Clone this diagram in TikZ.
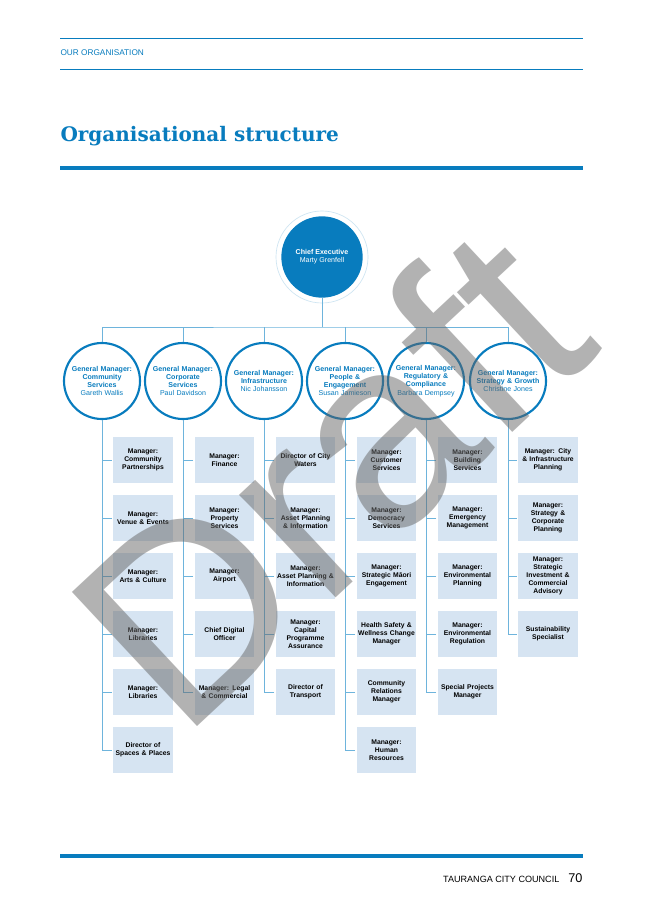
\documentclass[tikz,border=0pt]{standalone}
\usepackage{fontspec}
\setmainfont{Liberation Sans}
\newfontfamily\titlefont{DejaVu Serif}
\definecolor{tccblue}{RGB}{8,124,190}
\definecolor{tccbox}{RGB}{214,228,242}
\definecolor{tccline}{RGB}{110,180,220}
\tikzset{
  every picture/.style={line width=0.75pt},
  unit/.style={fill=tccbox,draw=white,line width=1.2pt,minimum width=46pt,minimum height=36pt,
    text width=46pt,align=center,inner sep=0pt,font=\fontsize{5.1}{6.1}\selectfont\bfseries},
  gmcircle/.style={circle,draw=tccblue,line width=1.6pt,fill=white,minimum size=57pt,inner sep=0pt,
    text width=50pt,align=center,text=tccblue,font=\fontsize{5.3}{6.2}\selectfont},
  link/.style={draw=tccline,line width=0.6pt},
}
\begin{document}
\hyphenpenalty=10000
\begin{tikzpicture}[x=0.75pt,y=0.75pt,yscale=-1,xscale=1]
\useasboundingbox (0,0) rectangle (645,912);
\fill[white] (0,0) rectangle (645,912);

%Header
\draw[tccblue,line width=0.6pt] (60,38) -- (583,38);
\draw[tccblue,line width=0.6pt] (60,69) -- (583,69);
\node[anchor=west,text=tccblue,font=\fontsize{6.2}{7}\selectfont,inner sep=0pt] (head) at (60,53) {OUR ORGANISATION};
\node[anchor=west,text=tccblue,font=\titlefont\bfseries\fontsize{15}{18}\selectfont,inner sep=0pt] (title) at (60,136) {Organisational structure};
\draw[tccblue,line width=2.4pt] (60,168) -- (583,168);

%Chief executive
\draw[tccblue!20,line width=0.5pt] (322,257) circle (46);
\node[circle,fill=tccblue,minimum size=61pt,inner sep=0pt,align=center,text=white,
  font=\fontsize{5.3}{6.2}\selectfont] (ce) at (322,257) {\textbf{Chief Executive}\\Marty Grenfell};

%General managers
\node[gmcircle] (gm1) at (102,381) {\textbf{General Manager:\\Community\\Services}\\Gareth Wallis};
\node[gmcircle] (gm2) at (183,381) {\textbf{General Manager:\\Corporate\\Services}\\Paul Davidson};
\node[gmcircle] (gm3) at (264,381) {\textbf{General Manager:\\Infrastructure}\\Nic Johansson};
\node[gmcircle] (gm4) at (345,381) {\textbf{General Manager:\\People \&\\Engagement}\\Susan Jamieson};
\node[gmcircle] (gm5) at (426,381) {\textbf{General Manager:\\Regulatory \&\\Compliance}\\Barbara Dempsey};
\node[gmcircle] (gm6) at (508,381) {\textbf{General Manager:\\Strategy \& Growth}\\Christine Jones};
\coordinate (bar) at (322,327);
\draw[link] (ce.south) -- (bar);
\draw[link] (gm1.north) |- (bar) -| (gm6.north);
\foreach \g in {2,3,4,5} \draw[link] (gm\g.north) -- (gm\g.north |- bar);

%Units
\foreach \t [count=\i] in {{Manager:\\Community\\Partnerships},{Manager:\\Venue \& Events},{Manager:\\Arts \& Culture},{Manager:\\Libraries},{Manager:\\Libraries},{Director of\\Spaces \& Places}}
  \node[unit] (c1-\i) at (143,{460+58*(\i-1)}) {\t};
\foreach \t [count=\i] in {{Manager:\\Finance},{Manager:\\Property\\Services},{Manager:\\Airport},{Chief Digital\\Officer},{Manager: Legal\\\& Commercial}}
  \node[unit] (c2-\i) at (224.5,{460+58*(\i-1)}) {\t};
\foreach \t [count=\i] in {{Director of City\\Waters},{Manager:\\Asset Planning\\\& Information},{Manager:\\Asset Planning \&\\Information},{Manager:\\Capital\\Programme\\Assurance},{Director of\\Transport}}
  \node[unit] (c3-\i) at (305.5,{460+58*(\i-1)}) {\t};
\foreach \t [count=\i] in {{Manager:\\Customer\\Services},{Manager:\\Democracy\\Services},{Manager:\\Strategic Māori\\Engagement},{Health Safety \&\\Wellness Change\\Manager},{Community\\Relations\\Manager},{Manager:\\Human\\Resources}}
  \node[unit] (c4-\i) at (386.5,{460+58*(\i-1)}) {\t};
\foreach \t [count=\i] in {{Manager:\\Building\\Services},{Manager:\\Emergency\\Management},{Manager:\\Environmental\\Planning},{Manager:\\Environmental\\Regulation},{Special Projects\\Manager}}
  \node[unit] (c5-\i) at (467.5,{460+58*(\i-1)}) {\t};
\foreach \t [count=\i] in {{Manager: City\\\& Infrastructure\\Planning},{Manager:\\Strategy \&\\Corporate\\Planning},{Manager:\\Strategic\\Investment \&\\Commercial\\Advisory},{Sustainability\\Specialist}}
  \node[unit] (c6-\i) at (548,{460+58*(\i-1)}) {\t};

%Stems and branches
\foreach \c/\n in {1/6,2/5,3/5,4/6,5/5,6/4}{
  \draw[link] (gm\c.south) |- (c\c-\n.west);
  \foreach \i in {1,...,\n} \draw[link] (c\c-\i.west) -- (c\c-\i.west -| gm\c.south);
}

%Watermark
\node[rotate=43,opacity=0.5,text=black!60,font=\fontsize{200}{200}\selectfont,inner sep=0pt] (draft) at (328,475) {Draft};

%Footer
\draw[tccblue,line width=2.4pt] (60,856) -- (583,856);
\node[anchor=east,font=\fontsize{6.8}{8}\selectfont,inner sep=0pt] (council) at (583,878)
  {TAURANGA CITY COUNCIL\quad{\fontsize{9.5}{10}\selectfont 70}};
\end{tikzpicture}
\end{document}
